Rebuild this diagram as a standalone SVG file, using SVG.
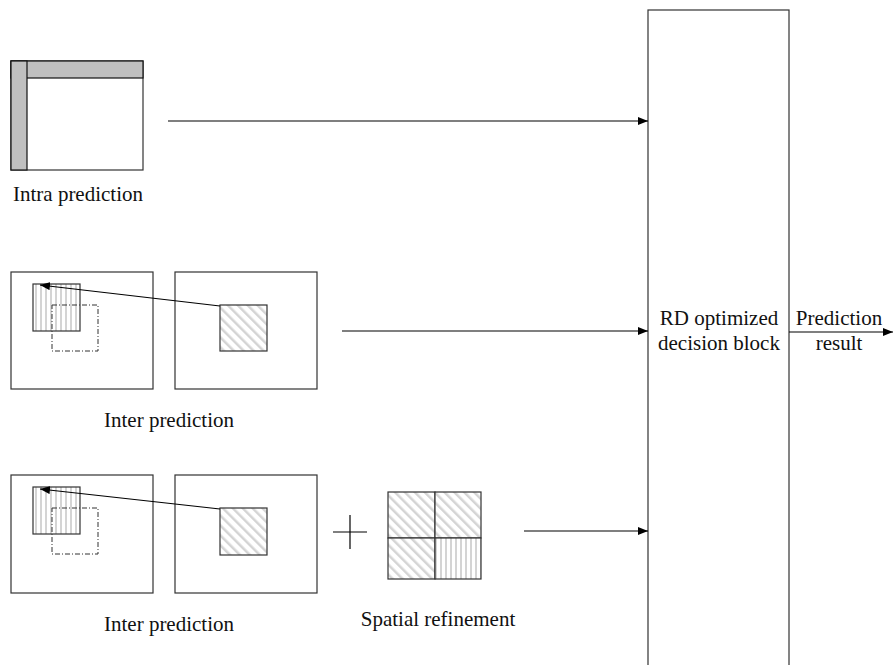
<svg xmlns="http://www.w3.org/2000/svg" width="893" height="665" viewBox="0 0 893 665">
<style>
.frame{fill:#fff;stroke:#333;stroke-width:1.2}
.blk{stroke:#333;stroke-width:1.2}
.dash{fill:none;stroke:#333;stroke-width:1;stroke-dasharray:5,2,1,2}
.conn{fill:none;stroke:#000;stroke-width:1.2}
.lbl{font-family:'Liberation Serif','Times New Roman',serif;font-size:21px;fill:#111}
</style>
<defs>
<pattern id="vstripe" patternUnits="userSpaceOnUse" width="5" height="5">
<rect width="5" height="5" fill="#fff"/>
<rect x="0" y="0" width="2" height="5" fill="#d4d4d4"/>
</pattern>
<pattern id="dstripe" patternUnits="userSpaceOnUse" width="7" height="7" patternTransform="rotate(-45)">
<rect width="7" height="7" fill="#fff"/>
<rect x="0" y="0" width="2.5" height="7" fill="#d4d4d4"/>
</pattern>
<marker id="ah" markerWidth="10" markerHeight="8" refX="10" refY="4" orient="auto" markerUnits="userSpaceOnUse">
<path d="M0,0 L10,4 L0,8 Z" fill="#000"/>
</marker>
</defs>

<g id="intra">
<rect class="frame" x="11" y="61" width="132" height="109"/>
<rect x="11" y="61" width="132" height="17" fill="#c0c0c0" stroke="#111" stroke-width="1.2"/>
<rect x="11" y="61" width="16" height="109" fill="#c0c0c0" stroke="#111" stroke-width="1.2"/>
<text class="lbl" font-family="Liberation Serif, serif" x="78" y="201" text-anchor="middle">Intra prediction</text>
</g>

<g id="inter1">
<rect class="frame" x="11" y="272" width="142" height="117"/>
<rect class="frame" x="175" y="272" width="142" height="117"/>
<rect class="blk" x="33" y="284" width="47" height="47" fill="url(#vstripe)"/>
<rect class="dash" x="52" y="305" width="46" height="46"/>
<rect class="blk" x="220" y="305" width="47" height="46" fill="url(#dstripe)"/>
<line class="conn" x1="220" y1="306" x2="40" y2="285" marker-end="url(#ah)"/>
<text class="lbl" font-family="Liberation Serif, serif" x="169" y="427" text-anchor="middle">Inter prediction</text>
</g>

<g id="inter2">
<rect class="frame" x="11" y="475" width="142" height="118"/>
<rect class="frame" x="175" y="475" width="142" height="118"/>
<rect class="blk" x="33" y="487" width="47" height="47" fill="url(#vstripe)"/>
<rect class="dash" x="52" y="508" width="46" height="46"/>
<rect class="blk" x="220" y="508" width="47" height="47" fill="url(#dstripe)"/>
<line class="conn" x1="220" y1="509" x2="40" y2="489" marker-end="url(#ah)"/>
<text class="lbl" font-family="Liberation Serif, serif" x="169" y="631" text-anchor="middle">Inter prediction</text>
</g>

<g id="plus">
<line x1="333" y1="532" x2="367" y2="532" stroke="#000" stroke-width="1.2"/>
<line x1="350" y1="515" x2="350" y2="549" stroke="#000" stroke-width="1.2"/>
</g>

<g id="spatial">
<rect x="388" y="492" width="47" height="46" fill="url(#dstripe)" stroke="#333" stroke-width="1.2"/>
<rect x="435" y="492" width="46" height="46" fill="url(#dstripe)" stroke="#333" stroke-width="1.2"/>
<rect x="388" y="538" width="47" height="41" fill="url(#dstripe)" stroke="#333" stroke-width="1.2"/>
<rect x="435" y="538" width="46" height="41" fill="url(#vstripe)" stroke="#333" stroke-width="1.2"/>
<text class="lbl" font-family="Liberation Serif, serif" x="438" y="626" text-anchor="middle">Spatial refinement</text>
</g>

<g id="rd">
<rect x="648" y="10" width="141" height="670" fill="#fff" stroke="#333" stroke-width="1.2"/>
<text class="lbl" font-family="Liberation Serif, serif" x="719" y="325" text-anchor="middle">RD optimized</text>
<text class="lbl" font-family="Liberation Serif, serif" x="719" y="350" text-anchor="middle">decision block</text>
</g>

<g id="output">
<text class="lbl" font-family="Liberation Serif, serif" x="839" y="325" text-anchor="middle">Prediction</text>
<text class="lbl" font-family="Liberation Serif, serif" x="839" y="350" text-anchor="middle">result</text>
</g>

<g id="connectors">
<line class="conn" x1="168" y1="121" x2="648" y2="121" marker-end="url(#ah)"/>
<line class="conn" x1="342" y1="331" x2="648" y2="331" marker-end="url(#ah)"/>
<line class="conn" x1="524" y1="531" x2="648" y2="531" marker-end="url(#ah)"/>
<line class="conn" x1="789" y1="332" x2="893" y2="332" marker-end="url(#ah)"/>
</g>
</svg>
